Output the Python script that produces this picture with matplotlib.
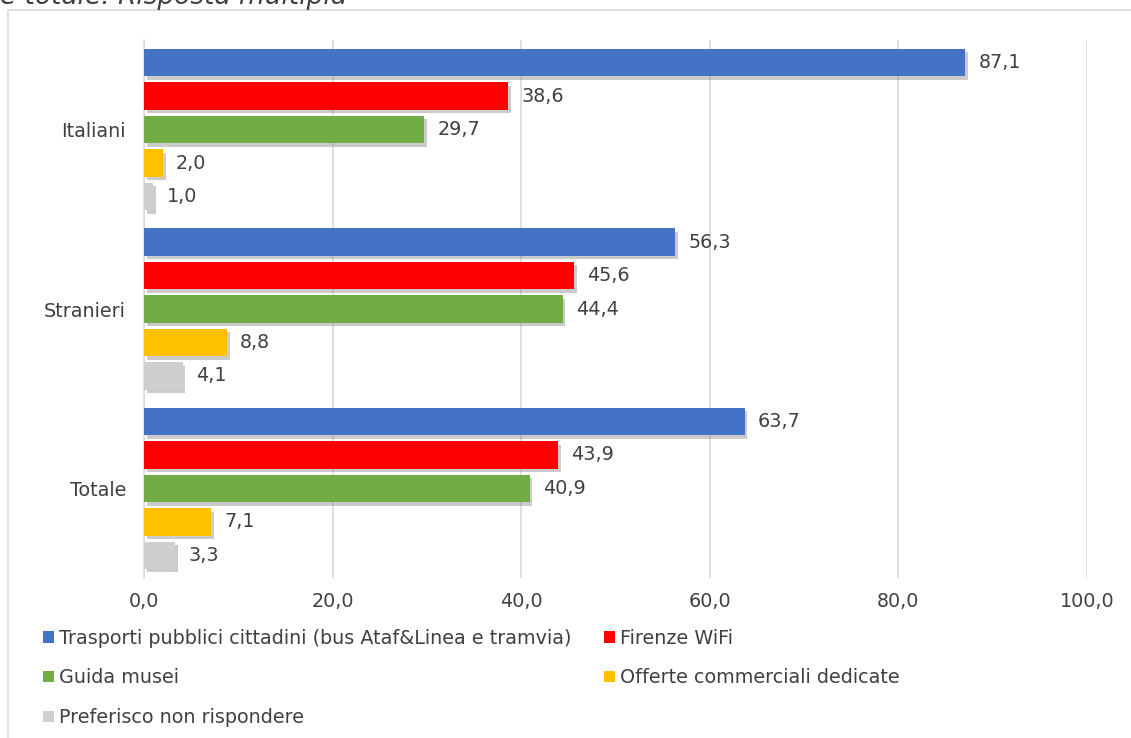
import matplotlib
matplotlib.use("Agg")
import matplotlib.pyplot as plt
import matplotlib.patheffects as pe
from matplotlib.patches import Rectangle, Patch

plt.rcParams['font.family'] = ['DejaVu Sans']

categories = ["Italiani", "Stranieri", "Totale"]
series_names = [
    "Trasporti pubblici cittadini (bus Ataf&Linea e tramvia)",
    "Firenze WiFi",
    "Guida musei",
    "Offerte commerciali dedicate",
    "Preferisco non rispondere",
]
trasporti = [87.1, 56.3, 63.7]
wifi = [38.6, 45.6, 43.9]
musei = [29.7, 44.4, 40.9]
offerte = [2.0, 8.8, 7.1]
non_risp = [1.0, 4.1, 3.3]
series_values = [trasporti, wifi, musei, offerte, non_risp]
colors = ["#4472C4", "#FF0000", "#70AD47", "#FFC000", "#D0CECE"]
xticks = [0, 20, 40, 60, 80, 100]

fig = plt.figure(figsize=(11.31, 7.38), dpi=100)
ax = fig.add_axes([0.1273, 0.2168, 0.9611 - 0.1273, 0.9458 - 0.2168])

step = 33.5 / 179.5
height = 27.5 / 179.5
text_color = "#404040"
fs = 13.8
shadow = [pe.SimplePatchShadow(offset=(2, -2.5), shadow_rgbFace="#8c8c8c", alpha=0.45), pe.Normal()]

for j, (vals, col) in enumerate(zip(series_values, colors)):
    ys = [i + (j - 2) * step for i in range(len(categories))]
    bars = ax.barh(ys, vals, height=height, color=col, zorder=3)
    for b in bars:
        b.set_path_effects(shadow)
    for y, v in zip(ys, vals):
        ax.annotate(f"{v:.1f}".replace(".", ","), (v, y), xytext=(9.5, 0),
                    textcoords="offset points", va="center", ha="left",
                    fontsize=fs, color=text_color, zorder=4)

ax.set_xlim(0, 100)
ax.set_ylim(2.5, -0.5)
ax.set_xticks(xticks)
ax.set_xticklabels([f"{t:.1f}".replace(".", ",") for t in xticks])
ax.set_yticks(range(len(categories)))
ax.set_yticklabels(categories)
ax.tick_params(axis="both", length=0, labelsize=fs, colors=text_color)
ax.tick_params(axis="y", pad=13)
ax.tick_params(axis="x", pad=10)
ax.grid(axis="x", color="#d9d9d9", linewidth=1.2, zorder=0)
for s in ["top", "right", "bottom"]:
    ax.spines[s].set_visible(False)
ax.spines["left"].set_color("#d9d9d9")
ax.spines["left"].set_linewidth(1.2)

order = [0, 2, 4, 1, 3]
handles = [Patch(facecolor=colors[k], edgecolor="none") for k in order]
labels = [series_names[k] for k in order]
fig.legend(handles, labels, loc="upper left", bbox_to_anchor=(0.038, 0.148),
           ncol=2, frameon=False, fontsize=fs, labelcolor=text_color,
           handlelength=0.55, handleheight=0.55, handletextpad=0.3,
           columnspacing=1.68, labelspacing=1.08, borderaxespad=0, borderpad=0)

fig.patches.append(Rectangle((8 / 1131, -0.05), 1.1, 1 - 10 / 738 + 0.05,
                             transform=fig.transFigure, fill=False,
                             edgecolor="#d9d9d9", linewidth=1.2))

fig.text(0.0, 1 - 4 / 738, "e totale. Risposta multipla", fontsize=19, style="italic",
         color=text_color, ha="left", va="baseline")

fig.savefig("out.png", dpi=100)
